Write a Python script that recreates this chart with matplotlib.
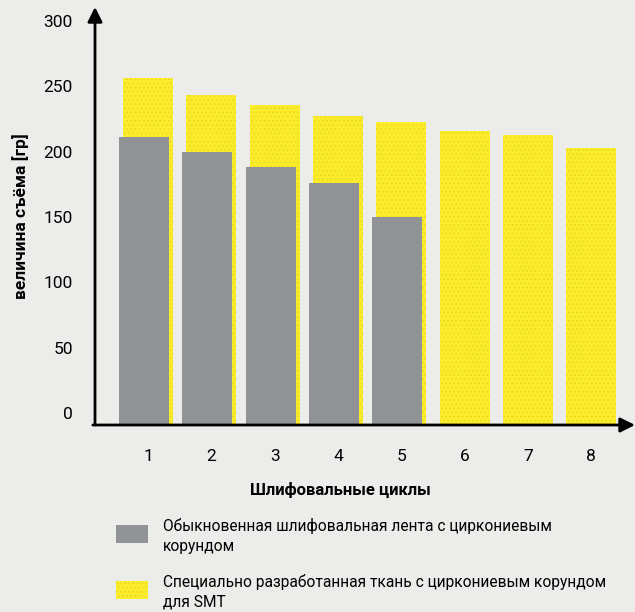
import matplotlib
matplotlib.use("Agg")
import matplotlib.pyplot as plt
from matplotlib.patches import Rectangle

# data
cycles = [1, 2, 3, 4, 5, 6, 7, 8]
standard_belt = [211, 200, 188, 176, 150]          # cycles 1-5 only
smt_cloth = [256, 243, 236, 227, 223, 216, 213, 203]
y_ticks = [0, 50, 100, 150, 200, 250, 300]

x_title = "Шлифовальные циклы"
y_title = "величина съёма [гр]"
legend_labels = [
    "Обыкновенная шлифовальная лента с циркониевым\nкорундом",
    "Специально разработанная ткань с циркониевым корундом\nдля SMT",
]

BG = "#ececea"
GRAY = "#909396"
YELLOW = "#fbec2a"
YELLOW_DOT = "#e6d52c"

plt.rcParams["font.family"] = ["Roboto", "DejaVu Sans"]
plt.rcParams["hatch.linewidth"] = 0.6

fig = plt.figure(figsize=(6.35, 6.12), dpi=100, facecolor=BG)
ax = fig.add_axes([95 / 635, 1 - 425 / 612, 540 / 635, 418 / 612])
ax.set_facecolor(BG)

ymin, ymax = -9.2, 310.7
ax.set_xlim(0.163, 8.69)
ax.set_ylim(ymin, ymax)

width = 0.79
shift = 0.063
ax.bar(cycles, [v - ymin for v in smt_cloth], bottom=ymin, width=width,
       color=YELLOW, edgecolor=YELLOW_DOT, linewidth=0, hatch="....", zorder=2)
ax.bar([c - shift for c in cycles[:len(standard_belt)]],
       [v - ymin for v in standard_belt], bottom=ymin, width=width,
       color=GRAY, linewidth=0, zorder=3)

for s in ax.spines.values():
    s.set_visible(False)

# axis arrows
arrow = dict(arrowstyle="-|>", color="black", lw=2, mutation_scale=22,
             shrinkA=0, shrinkB=0)
ax.annotate("", xy=(0, 1), xytext=(0, 0), xycoords="axes fraction",
            arrowprops=arrow, annotation_clip=False)
ax.annotate("", xy=(1, 0), xytext=(-0.004, 0), xycoords="axes fraction",
            arrowprops=arrow, annotation_clip=False)

ax.set_yticks(y_ticks)
ax.set_yticklabels([str(t) for t in y_ticks])
ax.set_xticks(cycles)
ax.set_xticklabels([str(c) for c in cycles])
ax.tick_params(axis="y", length=0, pad=16, labelsize=12.5)
ax.tick_params(axis="x", length=0, pad=17, labelsize=12.5)

fig.text(340 / 635, 1 - 490 / 612, x_title, ha="center", va="center",
         fontsize=12, fontweight="bold")
fig.text(21 / 635, 1 - 216 / 612, y_title, ha="center", va="center",
         rotation=90, fontsize=12.5, fontweight="bold")

# legend drawn by hand
fig.patches.append(Rectangle((116 / 635, 1 - 543 / 612), 32 / 635, 18 / 612,
                             transform=fig.transFigure, facecolor=GRAY,
                             linewidth=0))
fig.patches.append(Rectangle((116 / 635, 1 - 599 / 612), 32 / 635, 18 / 612,
                             transform=fig.transFigure, facecolor=YELLOW,
                             edgecolor=YELLOW_DOT, linewidth=0, hatch="...."))
fig.text(163 / 635, 1 - 536 / 612, legend_labels[0], ha="left", va="center",
         fontsize=11.2, linespacing=1.4)
fig.text(163 / 635, 1 - 592 / 612, legend_labels[1], ha="left", va="center",
         fontsize=11.2, linespacing=1.4)

fig.savefig("out.png", dpi=100, facecolor=BG)
